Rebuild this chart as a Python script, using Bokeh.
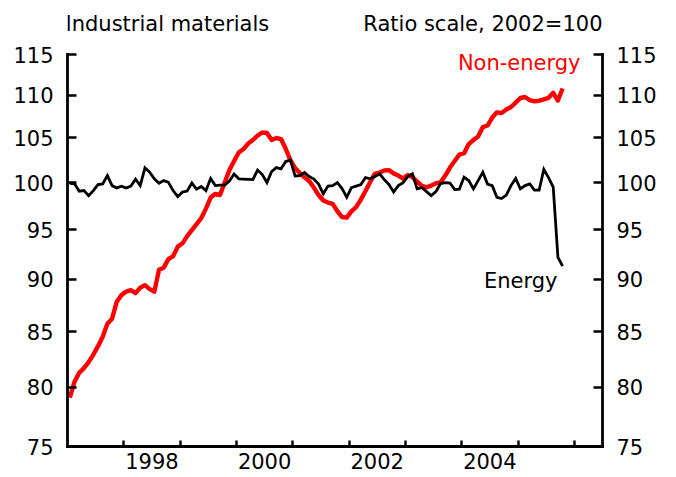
import math
from bokeh.plotting import figure
from bokeh.models import Range1d, LogAxis, FixedTicker, NumeralTickFormatter, Label
from bokeh.embed import file_html
from bokeh.resources import INLINE

# ---- data (monthly, Jan 1997 - Oct 2005, 2002=100) ----
start_year = 1997
non_energy = [
    79.10, 80.49, 81.28, 81.69, 82.22, 82.90, 83.67, 84.54, 85.75, 86.22,
    87.83, 88.46, 88.80, 88.94, 88.65, 89.18, 89.43, 89.04, 88.80, 90.95,
    91.15, 92.00, 92.30, 93.26, 93.60, 94.34, 94.96, 95.58, 96.21, 97.21,
    98.39, 98.79, 98.66, 100.01, 101.38, 102.39, 103.34, 103.73, 104.36, 104.76,
    105.27, 105.62, 105.56, 104.76, 104.99, 104.87, 103.76, 102.50, 101.61, 101.05,
    100.58, 100.17, 99.47, 98.66, 98.07, 97.85, 97.71, 96.95, 96.32, 96.26,
    96.92, 97.37, 98.17, 99.09, 100.07, 101.00, 101.11, 101.33, 101.38, 101.00,
    100.78, 100.45, 100.83, 100.61, 100.12, 99.65, 99.50, 99.68, 99.93, 100.04,
    100.78, 101.66, 102.39, 103.11, 103.26, 104.30, 104.76, 105.16, 106.25, 106.43,
    107.36, 107.97, 107.89, 108.30, 108.60, 109.13, 109.67, 109.79, 109.43, 109.28,
    109.35, 109.52, 109.69, 110.30, 109.37, 110.81,
]
energy = [
    99.93, 99.87, 99.07, 99.14, 98.60, 99.14, 99.79, 99.87, 100.78, 99.68,
    99.43, 99.61, 99.41, 99.63, 100.39, 99.68, 101.63, 101.14, 100.42, 99.93,
    100.23, 100.04, 99.14, 98.49, 98.98, 99.09, 99.96, 99.30, 99.58, 99.14,
    100.45, 99.68, 99.74, 99.74, 100.17, 100.96, 100.42, 100.39, 100.36, 100.34,
    101.38, 100.89, 100.01, 101.22, 101.66, 101.52, 102.33, 102.50, 100.72, 100.78,
    101.11, 100.67, 100.39, 99.85, 98.79, 99.63, 99.68, 100.01, 99.36, 98.42,
    99.47, 99.63, 99.79, 100.56, 100.42, 100.67, 100.96, 100.34, 99.79, 98.98,
    99.68, 100.01, 100.67, 100.96, 99.33, 99.47, 99.03, 98.60, 99.03, 99.90,
    100.01, 99.96, 99.25, 99.30, 100.61, 100.23, 99.33, 100.23, 101.14, 99.85,
    99.68, 98.42, 98.28, 98.66, 99.68, 100.47, 99.33, 99.68, 99.87, 99.20,
    99.20, 101.47, 100.56, 99.52, 92.18, 91.30,
]
y_ticks = [75, 80, 85, 90, 95, 100, 105, 110, 115]
year_ticks = [1998, 1999, 2000, 2001, 2002, 2003, 2004, 2005, 2006]
year_labels = ["1998", "2000", "2002", "2004"]
title_left = "Industrial materials"
title_right = "Ratio scale, 2002=100"
series_names = ["Non-energy", "Energy"]

x = [start_year + (i + 0.5) / 12 for i in range(len(energy))]

FONT = "DejaVu Sans"
FS = "21px"

# layout geometry (pixels)
W, H = 676, 477
B_LEFT, B_RIGHT, B_TOP, B_BOTTOM = 67, 74, 2, 31
AX_TOP_PX = 54          # where the 115 line sits
Y_LO, Y_HI = 75, 115
frame_h = H - B_TOP - B_BOTTOM
span = frame_h - (AX_TOP_PX - B_TOP)
y_end = Y_HI * math.exp((AX_TOP_PX - B_TOP) / span * math.log(Y_HI / Y_LO))

p = figure(width=W, height=H, x_range=Range1d(1997.0, 2006.5),
           y_range=Range1d(Y_LO, y_end), y_axis_type="log",
           output_backend="svg", toolbar_location=None,
           min_border_left=B_LEFT, min_border_right=B_RIGHT,
           min_border_top=B_TOP, min_border_bottom=B_BOTTOM)
p.outline_line_color = None
p.grid.visible = False
p.background_fill_color = "white"
p.border_fill_color = "white"

p.line(x, non_energy, line_color="#ff0000", line_width=4.4, line_join="round")
p.line(x, energy, line_color="#000000", line_width=2.8, line_join="miter")

right_axis = LogAxis()
p.add_layout(right_axis, "right")

for ax in [p.yaxis[0], right_axis]:
    ax.bounds = (Y_LO, Y_HI)
    ax.ticker = FixedTicker(ticks=y_ticks, minor_ticks=[])
    ax.formatter = NumeralTickFormatter(format="0")
    ax.major_tick_in = 9
    ax.major_tick_out = 0
    ax.minor_tick_in = 0
    ax.minor_tick_out = 0
    ax.axis_line_width = 2.8
    ax.axis_line_cap = "square"
    ax.major_tick_line_width = 2.6
    ax.major_label_standoff = 14
    ax.major_label_text_font = FONT
    ax.major_label_text_font_size = FS
    ax.major_label_text_color = "black"

xa = p.xaxis[0]
label_pos = [int(s) + 0.5 for s in year_labels]
xa.ticker = FixedTicker(ticks=label_pos, minor_ticks=year_ticks)
xa.major_label_overrides = {pos: s for pos, s in zip(label_pos, year_labels)}
xa.major_tick_in = 0
xa.major_tick_out = 0
xa.minor_tick_in = 6
xa.minor_tick_out = 0
xa.minor_tick_line_width = 2.4
xa.minor_tick_line_color = "black"
xa.axis_line_width = 2.8
xa.axis_line_cap = "square"
xa.major_label_standoff = 6
xa.major_label_text_font = FONT
xa.major_label_text_font_size = FS
xa.major_label_text_color = "black"

p.add_layout(Label(x=1997.0, y=Y_HI, x_offset=-2, y_offset=31, text=title_left,
                   text_align="left", text_baseline="alphabetic",
                   text_font=FONT, text_font_size=FS, text_color="black"))
p.add_layout(Label(x=2006.5, y=Y_HI, x_offset=0, y_offset=31, text=title_right,
                   text_align="right", text_baseline="alphabetic",
                   text_font=FONT, text_font_size=FS, text_color="black"))
p.add_layout(Label(x=2006.5, y=Y_HI, x_offset=-22, y_offset=-8, text=series_names[0],
                   text_align="right", text_baseline="alphabetic",
                   text_font=FONT, text_font_size=FS, text_color="#ff0000"))
p.add_layout(Label(x=2006.5, y=Y_HI, x_offset=-45, y_offset=-226, text=series_names[1],
                   text_align="right", text_baseline="alphabetic",
                   text_font=FONT, text_font_size=FS, text_color="black"))

open("out.html", "w").write(file_html(p, INLINE))
